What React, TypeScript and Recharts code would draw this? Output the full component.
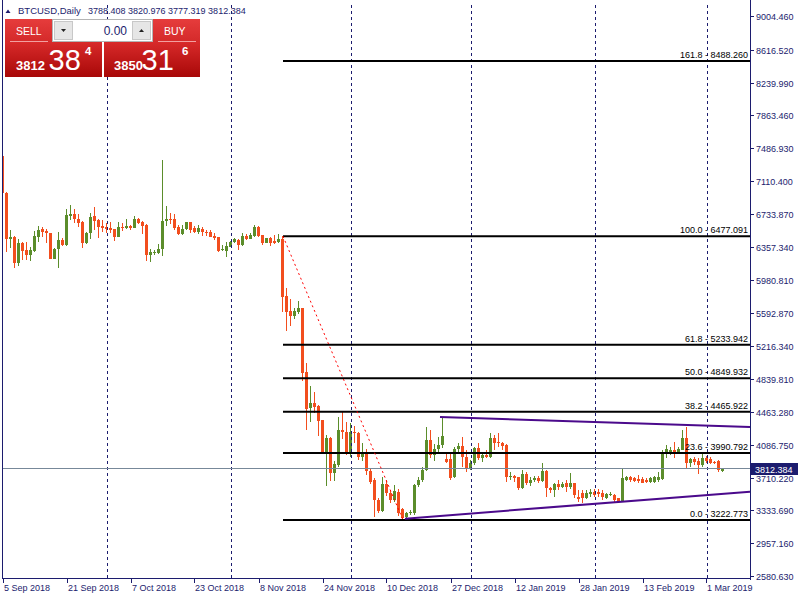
import React from "react";
import { ComposedChart, Bar, XAxis, YAxis, ReferenceLine } from "recharts";

const NAVY = "#1c1c6e";
const BULL = "#5b8d2b";
const BEAR = "#f24e1e";
const FONT = "'Liberation Sans', Arial, sans-serif";

// daily candles, 5 Sep 2018 .. 5 Mar 2019 (index = bar number)
const opens = [
  7400, 6975, 6450, 6473, 6175, 6397, 6320, 6263, 6309, 6473,
  6557, 6542, 6511, 6221, 6328, 6435, 6378, 6710, 6733, 6680,
  6641, 6397, 6511, 6710, 6664, 6596, 6580, 6573, 6561, 6473,
  6580, 6569, 6596, 6577, 6676, 6641, 6607, 6267, 6294, 6290,
  6328, 6649, 6676, 6676, 6580, 6504, 6557, 6641, 6569, 6530,
  6561, 6523, 6523, 6481, 6465, 6320, 6313, 6359, 6412, 6435,
  6374, 6481, 6450, 6481, 6580, 6492, 6404, 6458, 6427, 6416,
  6450, 5793, 5620, 5563, 5613, 5651, 4924, 4504, 4569, 4531,
  4370, 4007, 4160, 3766, 3854, 4256, 4230, 3996, 4236, 4217,
  3942, 4007, 3789, 3682, 3452, 3330, 3636, 3529, 3452, 3548,
  3345, 3261, 3299, 3299, 3624, 3682, 3796, 4141, 3968, 4033,
  4083, 3919, 3919, 3712, 4034, 4072, 3949, 3816, 3873, 4045,
  3930, 3969, 3949, 4160, 4121, 4110, 4083, 3720, 3728, 3712,
  3586, 3751, 3644, 3682, 3708, 3674, 3789, 3586, 3567, 3636,
  3598, 3644, 3598, 3644, 3491, 3529, 3472, 3521, 3548, 3548,
  3529, 3472, 3510, 3510, 3472, 3433, 3682, 3712, 3701, 3689,
  3689, 3682, 3659, 3659, 3682, 3689, 3995, 4007, 4026, 3995,
  4026, 4160, 3881, 3919, 3904, 3854, 3938, 3919, 3892, 3904,
  3788.408,
];
const highs = [
  7420, 6985, 6550, 6481, 6446, 6416, 6412, 6359, 6538, 6596,
  6580, 6557, 6519, 6340, 6527, 6454, 6791, 6836, 6791, 6733,
  6650, 6530, 6741, 6810, 6672, 6665, 6626, 6645, 6565, 6645,
  6626, 6676, 6607, 6710, 6684, 6657, 6619, 6332, 6320, 6389,
  7352, 6825, 6749, 6729, 6607, 6607, 6645, 6645, 6596, 6607,
  6580, 6550, 6550, 6511, 6473, 6378, 6416, 6420, 6454, 6443,
  6511, 6504, 6511, 6607, 6596, 6495, 6462, 6473, 6489, 6504,
  6477.091, 5880, 5758, 5651, 5735, 5655, 5020, 4760, 4687, 4542,
  4375, 4198, 4179, 3900, 4408, 4460, 4351, 4340, 4301, 4236,
  4110, 4034, 3820, 3700, 3470, 3720, 3680, 3560, 3620, 3580,
  3360, 3320, 3340, 3640, 3720, 3830, 4290, 4260, 4100, 4170,
  4410, 3988, 3988, 4064, 4102, 4180, 4026, 3911, 4064, 4102,
  3988, 4026, 4217, 4198, 4217, 4121, 4090, 3777, 3739, 3720,
  3796, 3777, 3712, 3728, 3728, 3873, 3796, 3605, 3651, 3682,
  3663, 3682, 3760, 3644, 3567, 3567, 3567, 3575, 3575, 3575,
  3567, 3529, 3540, 3517, 3480, 3816, 3728, 3728, 3720, 3739,
  3720, 3701, 3720, 3728, 3777, 4026, 4083, 4064, 4121, 4064,
  4255, 4293, 3930, 3949, 3930, 3995, 3957, 3942, 3900, 3911,
  3820.976,
];
const lows = [
  6880, 6300, 6340, 6118, 6141, 6206, 6206, 6198, 6301, 6416,
  6473, 6404, 6213, 6215, 6118, 6366, 6366, 6665, 6626, 6580,
  6340, 6385, 6443, 6550, 6462, 6527, 6511, 6511, 6427, 6465,
  6542, 6557, 6550, 6569, 6619, 6504, 6198, 6187, 6263, 6271,
  6251, 6596, 6619, 6550, 6492, 6492, 6550, 6511, 6511, 6500,
  6481, 6481, 6465, 6435, 6301, 6309, 6244, 6351, 6397, 6320,
  6366, 6435, 6443, 6473, 6473, 6378, 6397, 6366, 6389, 6397,
  5613, 5395, 5448, 5525, 5582, 4817, 4256, 4351, 4454, 4187,
  3988, 3613, 3674, 3671, 3835, 4150, 3969, 3942, 4110, 3911,
  3904, 3739, 3640, 3261, 3300, 3310, 3500, 3420, 3430, 3270,
  3222.773, 3240, 3280, 3280, 3600, 3660, 3780, 3930, 3900, 4000,
  4050, 3880, 3682, 3701, 3988, 3835, 3777, 3796, 3854, 3911,
  3892, 3930, 3930, 4026, 4064, 4026, 3663, 3682, 3663, 3567,
  3575, 3624, 3613, 3663, 3651, 3663, 3491, 3529, 3491, 3567,
  3586, 3548, 3575, 3472, 3433, 3422, 3460, 3491, 3491, 3491,
  3452, 3460, 3500, 3433, 3420, 3433, 3674, 3663, 3663, 3651,
  3644, 3644, 3651, 3651, 3663, 3682, 3930, 3969, 3930, 3988,
  4026, 3816, 3835, 3854, 3751, 3835, 3881, 3865, 3860, 3777,
  3777.319,
];
const closes = [
  6975, 6450, 6473, 6175, 6397, 6309, 6263, 6320, 6481, 6550,
  6530, 6511, 6221, 6332, 6435, 6378, 6718, 6733, 6676, 6634,
  6397, 6519, 6695, 6657, 6588, 6573, 6557, 6550, 6473, 6580,
  6573, 6596, 6573, 6676, 6634, 6596, 6267, 6297, 6301, 6332,
  6653, 6680, 6665, 6573, 6504, 6557, 6641, 6550, 6530, 6569,
  6530, 6519, 6473, 6454, 6309, 6328, 6366, 6412, 6443, 6378,
  6481, 6450, 6492, 6580, 6481, 6404, 6458, 6397, 6397, 6450,
  5785, 5613, 5563, 5624, 5651, 4913, 4492, 4569, 4515, 4363,
  4007, 4160, 3766, 3866, 4256, 4230, 3996, 4236, 4217, 3942,
  4007, 3789, 3663, 3452, 3330, 3636, 3529, 3452, 3560, 3299,
  3242, 3299, 3318, 3624, 3682, 3796, 4141, 3968, 4033, 4083,
  4186, 3892, 3701, 4034, 4072, 3949, 3816, 3873, 4045, 3930,
  3969, 3949, 4160, 4110, 4102, 4076, 3720, 3724, 3701, 3586,
  3751, 3644, 3682, 3708, 3674, 3789, 3586, 3567, 3636, 3598,
  3636, 3598, 3644, 3510, 3460, 3472, 3529, 3548, 3510, 3521,
  3483, 3517, 3521, 3452, 3433, 3701, 3712, 3682, 3674, 3670,
  3651, 3659, 3701, 3712, 3720, 4007, 4034, 4026, 3995, 4034,
  4160, 3873, 3919, 3892, 3854, 3930, 3900, 3881, 3873, 3796,
  3812.384,
];

const tickIdx = [0, 16, 32, 48, 64, 80, 96, 112, 128, 144, 160, 176];
const tickLabels = [
  "5 Sep 2018", "21 Sep 2018", "7 Oct 2018", "23 Oct 2018", "8 Nov 2018", "24 Nov 2018",
  "10 Dec 2018", "27 Dec 2018", "12 Jan 2019", "28 Jan 2019", "13 Feb 2019", "1 Mar 2019",
];
const monthStarts = [26, 57, 87, 117, 148, 176];
const priceTicks = [
  9004.46, 8616.52, 8239.99, 7863.46, 7486.93, 7110.4, 6733.87, 6357.34, 5980.81,
  5592.87, 5216.34, 4839.81, 4463.28, 4086.75, 3710.22, 3333.69, 2957.16, 2580.63,
];

// fibonacci retracement from bar 70 high to bar 100 low
const fibLevels = [161.8, 100.0, 61.8, 50.0, 38.2, 23.6, 0.0];
const fibPrices = [8488.26, 6477.091, 5233.942, 4849.932, 4465.922, 3990.792, 3222.773];
const fibFrom = 70;
const fibTo = 100;

// channel lines [x1, y1, x2, y2]
const channelLines = [
  [109.25, 4404, 186.75, 4290],
  [100.5, 3238, 186.75, 3548],
];

const X_MAX = 186.75;
const bid = 3812.384;
const ask = 3850.316;

const data = opens.map((o, i) => ({
  idx: i,
  open: o,
  high: highs[i],
  low: lows[i],
  close: closes[i],
  range: [lows[i], highs[i]],
}));

function Candle(props: any) {
  const { x, y, width, height, payload } = props;
  if (!payload) return null;
  const { open, close, high, low } = payload;
  const top = Math.min(y, y + height);
  const span = Math.abs(height);
  const k = span / (high - low);
  const py = (v: number) => top + (high - v) * k;
  const cx = Math.floor(x + width / 2) + 0.5;
  const color = close >= open ? BULL : BEAR;
  const b1 = Math.round(py(Math.max(open, close)));
  const b2 = Math.round(py(Math.min(open, close)));
  return (
    <g>
      <line x1={cx} x2={cx} y1={Math.round(top)} y2={Math.round(top + span)} stroke={color} />
      <rect x={cx - 1.5} y={b1} width={3} height={Math.max(1, b2 - b1)} fill={color} />
    </g>
  );
}

function XTick(props: any) {
  const { x, payload } = props;
  const label = tickLabels[tickIdx.indexOf(payload.value)];
  const px = Math.floor(x) + 0.5;
  return (
    <g>
      <line x1={px} x2={px} y1={579} y2={583} stroke={NAVY} />
      <text x={px + 0.5} y={591} fill={NAVY} fontSize={9} fontFamily={FONT}>
        {label}
      </text>
    </g>
  );
}

function YTick(props: any) {
  const { y, payload } = props;
  const py = Math.round(y) + 0.5;
  return (
    <g>
      <line x1={751} x2={754} y1={py} y2={py} stroke={NAVY} />
      <text x={756} y={py + 3} fill={NAVY} fontSize={9} fontFamily={FONT}>
        {payload.value.toFixed(3)}
      </text>
    </g>
  );
}

const fibLabel = (text: string) => (p: any) => {
  const vb = p.viewBox;
  return (
    <text x={vb.x + vb.width - 2} y={vb.y - 3} textAnchor="end" fill="#000" fontSize={9} fontFamily={FONT}>
      {text}
    </text>
  );
};

const priceBox = (p: any) => {
  const vb = p.viewBox;
  const y = Math.round(vb.y);
  return (
    <g>
      <rect x={751} y={y - 6} width={47} height={12} fill={NAVY} />
      <text x={755} y={y + 4} fill="#fff" fontSize={9} fontFamily={FONT}>
        {bid.toFixed(3)}
      </text>
    </g>
  );
};

function splitPrice(p: number) {
  const s = p.toFixed(3);
  const [whole, dec] = s.split(".");
  return { head: whole, big: dec.slice(0, 2), tail: dec.slice(2) };
}

function TradePanel() {
  const b = splitPrice(bid);
  const a = splitPrice(ask);
  const last = opens.length - 1;
  const ohlc = [opens[last], highs[last], lows[last], closes[last]].map((v) => v.toFixed(3)).join(" ");
  return (
    <svg width={800} height={600} style={{ position: "absolute", left: 0, top: 0, pointerEvents: "none" }}>
      <defs>
        <linearGradient id="btnRed" x1="0" y1="0" x2="0" y2="1">
          <stop offset="0" stopColor="#e63c3c" />
          <stop offset="1" stopColor="#d42a2a" />
        </linearGradient>
        <linearGradient id="pxRed" x1="0" y1="0" x2="0" y2="1">
          <stop offset="0" stopColor="#d82a2a" />
          <stop offset="1" stopColor="#a80808" />
        </linearGradient>
      </defs>
      {/* chart frame */}
      <line x1={2.5} y1={0} x2={2.5} y2={579} stroke={NAVY} />
      <line x1={2} y1={578.5} x2={751} y2={578.5} stroke={NAVY} />
      <line x1={750.5} y1={0} x2={750.5} y2={580} stroke={NAVY} />

      {/* header */}
      <path d="M5.5 13 L10.5 13 L8 9.5 Z" fill={NAVY} />
      <text x={18} y={14} fill={NAVY} fontSize={9.5} fontFamily={FONT}>
        BTCUSD,Daily
      </text>
      <text x={88} y={14} fill={NAVY} fontSize={9} fontFamily={FONT}>
        {ohlc}
      </text>

      {/* one click trading */}
      <rect x={5} y={19} width={47} height={23} fill="url(#btnRed)" />
      <rect x={153} y={19} width={47} height={23} fill="url(#btnRed)" />
      <rect x={5} y={42} width={97} height={35} fill="url(#pxRed)" />
      <rect x={104} y={42} width={96} height={35} fill="url(#pxRed)" />
      <line x1={10} x2={48} y1={41.5} y2={41.5} stroke="#f2a0a0" />
      <line x1={158} x2={196} y1={41.5} y2={41.5} stroke="#f2a0a0" />
      <text x={16} y={35} fill="#fff" fontSize={10.5} fontFamily={FONT}>
        SELL
      </text>
      <text x={164} y={35} fill="#fff" fontSize={10.5} fontFamily={FONT}>
        BUY
      </text>
      <rect x={52.5} y={19.5} width={100} height={22} fill="#fff" stroke="#b4b4b4" />
      <rect x={54.5} y={21.5} width={18} height={18} fill="#e6e6e6" stroke="#c8c8c8" />
      <rect x={132.5} y={21.5} width={18} height={18} fill="#e6e6e6" stroke="#c8c8c8" />
      <path d="M61 29 L66 29 L63.5 32 Z" fill="#222" />
      <path d="M139 32 L144 32 L141.5 29 Z" fill="#222" />
      <text x={127} y={35} textAnchor="end" fill={NAVY} fontSize={12} fontFamily={FONT}>
        0.00
      </text>

      <text x={16} y={70} fill="#fff" fontSize={13} fontWeight="bold" fontFamily={FONT}>
        {b.head}
      </text>
      <text x={48.5} y={70} fill="#fff" fontSize={29} fontFamily={FONT}>
        {b.big}
      </text>
      <text x={85} y={55} fill="#fff" fontSize={11.5} fontWeight="bold" fontFamily={FONT}>
        {b.tail}
      </text>
      <text x={114} y={70} fill="#fff" fontSize={13} fontWeight="bold" fontFamily={FONT}>
        {a.head}
      </text>
      <text x={141.5} y={70} fill="#fff" fontSize={29} fontFamily={FONT}>
        {a.big}
      </text>
      <text x={182} y={55} fill="#fff" fontSize={11.5} fontWeight="bold" fontFamily={FONT}>
        {a.tail}
      </text>
    </svg>
  );
}

export default function App() {
  return (
    <div style={{ position: "absolute", left: 0, top: 0, width: 800, height: 600, background: "#fff" }}>
      <ComposedChart width={800} height={600} data={data} margin={{ top: 2, right: 0, bottom: 0, left: 3 }}>
        <XAxis
          dataKey="idx"
          type="number"
          domain={[0, X_MAX]}
          allowDataOverflow
          ticks={tickIdx}
          interval={0}
          height={22}
          axisLine={false}
          tickLine={false}
          tick={<XTick />}
        />
        <YAxis
          type="number"
          orientation="right"
          domain={[2557.7, 9164.4]}
          allowDataOverflow
          ticks={priceTicks}
          interval={0}
          width={50}
          axisLine={false}
          tickLine={false}
          tick={<YTick />}
        />
        {monthStarts.map((m) => (
          <ReferenceLine key={m} x={m} stroke={NAVY} strokeDasharray="3 3" shapeRendering="crispEdges" />
        ))}
        <ReferenceLine y={bid} stroke="#778899" shapeRendering="crispEdges" label={{ content: priceBox }} />
        <Bar dataKey="range" shape={<Candle />} barSize={3} isAnimationActive={false} />
        {fibPrices.map((p, i) => (
          <ReferenceLine
            key={p}
            segment={[{ x: fibFrom, y: p }, { x: X_MAX, y: p }]}
            stroke="#000"
            strokeWidth={2}
            ifOverflow="visible"
            label={{ content: fibLabel(`${fibLevels[i].toFixed(1)} - ${p.toFixed(3)}`) }}
          />
        ))}
        <ReferenceLine
          segment={[{ x: fibFrom, y: fibPrices[1] }, { x: fibTo, y: fibPrices[6] }]}
          stroke="#ff0000"
          strokeDasharray="2 3"
          ifOverflow="visible"
        />
        {channelLines.map((l, i) => (
          <ReferenceLine
            key={i}
            segment={[{ x: l[0], y: l[1] }, { x: l[2], y: l[3] }]}
            stroke="#4b0a8c"
            strokeWidth={2}
            ifOverflow="visible"
          />
        ))}
      </ComposedChart>
      <TradePanel />
    </div>
  );
}
